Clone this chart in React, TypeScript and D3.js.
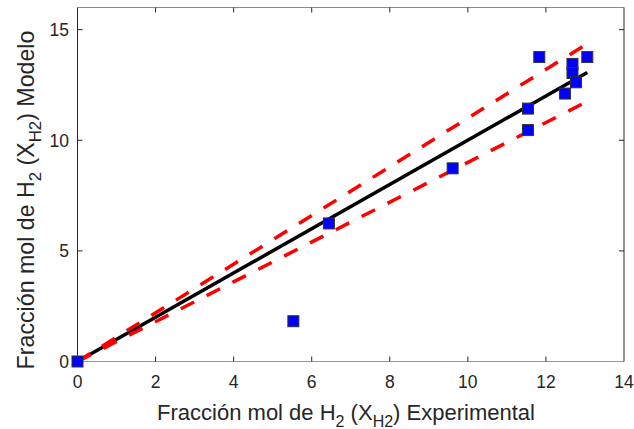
import React from "react";
import * as d3 from "d3";

const expX = [0, 5.53, 6.44, 9.61, 11.54, 11.54, 11.83, 12.49, 12.68, 12.68, 12.77, 13.06];
const modY = [0, 1.82, 6.24, 8.73, 11.43, 10.46, 13.76, 12.11, 13.45, 13.04, 12.62, 13.76];
const xTicks = [0, 2, 4, 6, 8, 10, 12, 14];
const yTicks = [0, 5, 10, 15];
const upperFactor = 1.1;
const lowerFactor = 0.9;

const W = 634, H = 429;
const left = 77.5, right = 624, top = 7.5, bottom = 361.5;
const FONT = "'Liberation Sans', Arial, Helvetica, sans-serif";
const TXT = "#262626";

export default function App() {
  const x = d3.scaleLinear().domain([0, 14]).range([left, right]);
  const y = d3.scaleLinear().domain([0, 16]).range([bottom, top]);
  const xMax = d3.max(expX) as number;
  const line = d3.line<[number, number]>().x(d => x(d[0])).y(d => y(d[1]));
  const fit = line([[0, 0], [xMax, xMax]]);
  const up = line([[0, 0], [xMax, xMax * upperFactor]]);
  const lo = line([[0, 0], [xMax, xMax * lowerFactor]]);
  const tl = 5;
  const LF = 22, SF = 16, SD = 7;
  const YF = 23.2, YSF = 16.8, YSD = 7.3;
  return (
    <svg width={W} height={H} style={{ position: "absolute", left: 0, top: 0, background: "#fff" }}>
      <rect x={0} y={0} width={W} height={H} fill="#fff" />
      {/* frame */}
      <line x1={left} x2={right} y1={top} y2={top} stroke="#8c8c8c" strokeWidth={1} />
      <line x1={left} x2={right} y1={bottom} y2={bottom} stroke="#9a9a9a" strokeWidth={1.2} />
      <line x1={left} x2={left} y1={top} y2={bottom} stroke={TXT} strokeWidth={1} />
      <line x1={right} x2={right} y1={top} y2={bottom} stroke={TXT} strokeWidth={1} />
      {xTicks.map(t => (
        <g key={"x" + t}>
          {t > 0 && t < 14 && <line x1={x(t)} x2={x(t)} y1={bottom} y2={bottom - tl} stroke={TXT} />}
          {t > 0 && t < 14 && <line x1={x(t)} x2={x(t)} y1={top} y2={top + tl} stroke={TXT} />}
          <text x={x(t)} y={388} textAnchor="middle" fontFamily={FONT} fontSize={17.5} fill={TXT}>{t}</text>
        </g>
      ))}
      {yTicks.map(t => (
        <g key={"y" + t}>
          {t > 0 && <line x1={left} x2={left + tl} y1={y(t)} y2={y(t)} stroke={TXT} />}
          {t > 0 && <line x1={right} x2={right - tl} y1={y(t)} y2={y(t)} stroke={TXT} />}
          <text x={69} y={y(t) + 6.5} textAnchor="end" fontFamily={FONT} fontSize={17.5} fill={TXT}>{t}</text>
        </g>
      ))}
      {/* lines */}
      <path d={fit || ""} fill="none" stroke="#000" strokeWidth={3.5} />
      <path d={up || ""} fill="none" stroke="#ff0000" strokeWidth={3.5} strokeDasharray="15 14" />
      <path d={lo || ""} fill="none" stroke="#ff0000" strokeWidth={3.5} strokeDasharray="15 14" />
      {/* markers */}
      {expX.map((v, i) => (
        <rect key={i} x={x(v) - 5.5} y={y(modY[i]) - 5.5} width={11} height={11} fill="#0000ff" stroke="#333" strokeWidth={1} />
      ))}
      {/* x label */}
      <text x={346} y={420} textAnchor="middle" fontFamily={FONT} fontSize={LF} fill={TXT}>
        Fracción mol de H<tspan fontSize={SF} dy={SD}>2</tspan><tspan dy={-SD}> (X</tspan><tspan fontSize={SF} dy={SD}>H2</tspan><tspan dy={-SD}>) Experimental</tspan>
      </text>
      {/* y label */}
      <text transform={`translate(34,200) rotate(-90)`} textAnchor="middle" fontFamily={FONT} fontSize={YF} fill={TXT}>
        Fracción mol de H<tspan fontSize={YSF} dy={YSD}>2</tspan><tspan dy={-YSD}> (X</tspan><tspan fontSize={YSF} dy={YSD}>H2</tspan><tspan dy={-YSD}>) Modelo</tspan>
      </text>
    </svg>
  );
}
